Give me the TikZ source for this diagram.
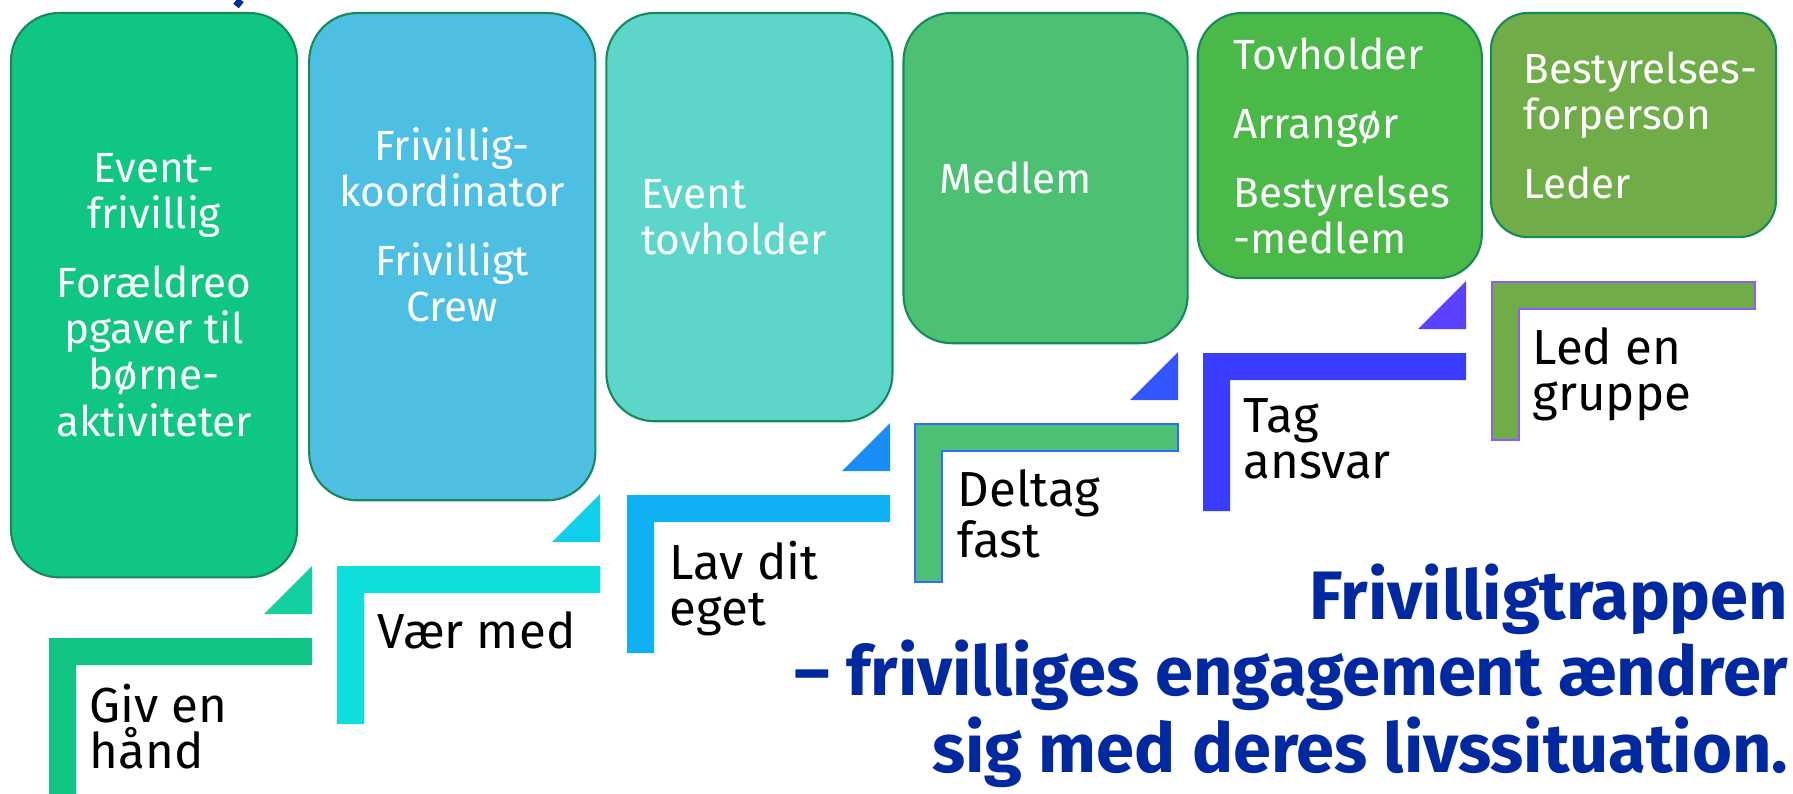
\documentclass[tikz,border=0pt]{standalone}
\usepackage{fontspec}
\setmainfont{Fira Sans}
\usetikzlibrary{positioning, calc}

\definecolor{boxline}{RGB}{23,138,90}
\definecolor{boxA}{RGB}{16,198,132}
\definecolor{boxB}{RGB}{77,191,227}
\definecolor{boxC}{RGB}{92,214,201}
\definecolor{boxD}{RGB}{76,193,115}
\definecolor{boxE}{RGB}{74,185,72}
\definecolor{boxF}{RGB}{112,172,72}
\definecolor{stepA}{RGB}{18,196,132}
\definecolor{triA}{RGB}{18,208,160}
\definecolor{stepB}{RGB}{14,223,218}
\definecolor{triB}{RGB}{16,207,234}
\definecolor{stepC}{RGB}{16,176,245}
\definecolor{triC}{RGB}{26,140,245}
\definecolor{stepDline}{RGB}{46,108,255}
\definecolor{triD}{RGB}{51,85,255}
\definecolor{stepE}{RGB}{58,60,255}
\definecolor{triE}{RGB}{90,64,255}
\definecolor{stepFline}{RGB}{140,92,255}
\definecolor{titleblue}{RGB}{0,40,160}

\begin{document}
\begin{tikzpicture}[
        x=0.01cm, y=-0.01cm,
        % --- stilarter ---
        rolebox/.style={
                draw=boxline,
                line width=0.6pt,
                rounded corners=0.48cm,
                minimum width=2.86cm,
                inner sep=0pt,
                outer sep=0pt
            },
        roletext/.style={
                text=white,
                font=\fontsize{12}{13.1}\selectfont,
                inner sep=0pt
            },
        steplabel/.style={
                font=\fontsize{14}{13.1}\selectfont,
                align=left,
                inner sep=0pt
            },
        titletext/.style={
                text=titleblue,
                font=\fontsize{19.5}{21.8}\selectfont\bfseries,
                align=right,
                inner sep=0pt
            }
    ]

    \useasboundingbox (0,0) rectangle (1793,793);

    % rest af en overskrift over billedet
    \draw[titleblue, line width=2pt] (241,0) -- (236,6);

    % 1. Rollerne
    \node[rolebox, fill=boxA, minimum height=5.64cm, anchor=north west] (box1) at (11,13) {};
    \node[rolebox, fill=boxB, minimum height=4.87cm, right=0.12cm of box1.north east, anchor=north west] (box2) {};
    \node[rolebox, fill=boxC, minimum height=4.08cm, right=0.11cm of box2.north east, anchor=north west] (box3) {};
    \node[rolebox, fill=boxD, minimum height=3.30cm, minimum width=2.84cm, right=0.11cm of box3.north east, anchor=north west] (box4) {};
    \node[rolebox, fill=boxE, minimum height=2.65cm, minimum width=2.84cm, rounded corners=0.44cm, right=0.10cm of box4.north east, anchor=north west] (box5) {};
    \node[rolebox, fill=boxF, minimum height=2.24cm, minimum width=2.85cm, rounded corners=0.37cm, right=0.09cm of box5.north east, anchor=north west] (box6) {};

    % Tekst i kasserne
    \node[roletext, align=center] (txt1) at (box1.center) {Event-\\frivillig\\[6.5pt]Forældreo\\pgaver til\\børne-\\aktiviteter};
    \node[roletext, align=center] (txt2) at ([yshift=0.32cm]box2.center) {Frivillig-\\koordinator\\[6.5pt]Frivilligt\\Crew};
    \node[roletext, align=left, right=0.34cm of box3.west] (txt3) {Event\\tovholder};
    \node[roletext, align=left, right=0.35cm of box4.west] (txt4) {Medlem};
    \node[roletext, align=left, right=0.35cm of box5.west] (txt5) {Tovholder\\[6.5pt]Arrangør\\[6.5pt]Bestyrelses\\-medlem};
    \node[roletext, align=left, right=0.32cm of box6.west] (txt6) {Bestyrelses-\\forperson\\[6.5pt]Leder};

    % 2. Trappetrin
    \coordinate (s1) at (49,638);
    \coordinate (s2) at (337,566);
    \coordinate (s3) at (627,495);
    \coordinate (s4) at (915,424);
    \coordinate (s5) at (1203,353);
    \coordinate (s6) at (1492,282);

    \fill[stepA] (s1) -- ++(263,0) -- ++(0,27) -- ++(-236,0) -- ++(0,131) -- ++(-27,0) -- cycle;
    \fill[stepB] (s2) -- ++(263,0) -- ++(0,27) -- ++(-236,0) -- ++(0,131) -- ++(-27,0) -- cycle;
    \fill[stepC] (s3) -- ++(263,0) -- ++(0,27) -- ++(-236,0) -- ++(0,131) -- ++(-27,0) -- cycle;
    \filldraw[fill=boxD, draw=stepDline, line width=0.6pt] (s4) -- ++(263,0) -- ++(0,27) -- ++(-236,0) -- ++(0,131) -- ++(-27,0) -- cycle;
    \fill[stepE] (s5) -- ++(263,0) -- ++(0,27) -- ++(-236,0) -- ++(0,131) -- ++(-27,0) -- cycle;
    \filldraw[fill=boxF, draw=stepFline, line width=0.6pt] (s6) -- ++(263,0) -- ++(0,27) -- ++(-236,0) -- ++(0,131) -- ++(-27,0) -- cycle;

    % Trekanter mellem trinene
    \fill[triA] ($(s1)+(263,-24)$) -- ++(-48,0) -- ++(48,-48) -- cycle;
    \fill[triB] ($(s2)+(263,-24)$) -- ++(-48,0) -- ++(48,-48) -- cycle;
    \fill[triC] ($(s3)+(263,-24)$) -- ++(-48,0) -- ++(48,-48) -- cycle;
    \fill[triD] ($(s4)+(263,-24)$) -- ++(-48,0) -- ++(48,-48) -- cycle;
    \fill[triE] ($(s5)+(263,-24)$) -- ++(-48,0) -- ++(48,-48) -- cycle;

    % Tekst ved trinene
    \node[steplabel, below right=0.45cm and 0.4cm of s1] (giv) {Giv en\\hånd};
    \node[steplabel, below right=0.45cm and 0.4cm of s2] (vaer) {Vær med};
    \node[steplabel, below right=0.45cm and 0.42cm of s3] (lav) {Lav dit\\eget};
    \node[steplabel, below right=0.45cm and 0.42cm of s4] (deltag) {Deltag\\fast};
    \node[steplabel, below right=0.45cm and 0.4cm of s5] (tag) {Tag\\ansvar};
    \node[steplabel, below right=0.45cm and 0.4cm of s6] (led) {Led en\\gruppe};

    % 3. Overskrift
    \node[titletext, anchor=north east] (title) at (1789,563) {Frivilligtrappen\\– frivilliges engagement ændrer\\sig med deres livssituation.};

\end{tikzpicture}
\end{document}
